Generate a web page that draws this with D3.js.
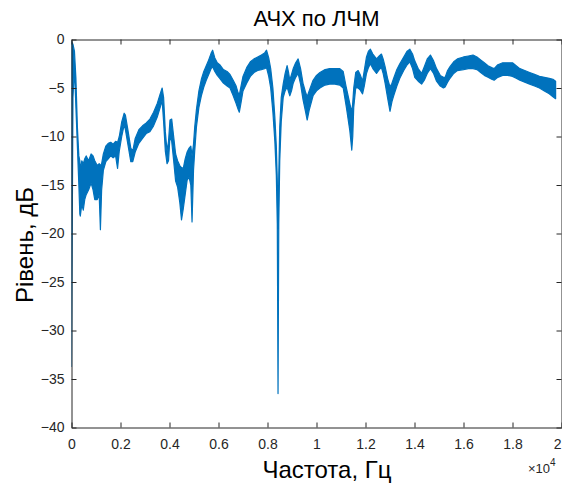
<!DOCTYPE html>
<html>
<head>
<meta charset="utf-8">
<script src="https://cdn.jsdelivr.net/npm/d3@7"></script>
<style>
  html, body { margin: 0; padding: 0; background: #ffffff; }
  svg { display: block; }
</style>
</head>
<body>
<svg id="chart" width="562" height="486"></svg>
<script>
// Frequency response measured with a linear chirp (ЛЧМ).
// The trace is dense, so it is kept as a lower and an upper envelope of the level.
const freqHz = [
  0, 60, 120, 180, 240, 300, 340, 360, 420, 480, 540, 600, 700, 800, 880, 950, 1050, 1130, 1180, 1230,
  1300, 1400, 1500, 1600, 1700, 1800, 1880, 1950, 2050, 2150, 2200, 2300, 2420, 2500, 2600, 2750,
  2900, 3050, 3200, 3350, 3500, 3620, 3700, 3760, 3830, 3900, 3960, 4020, 4090, 4170, 4250, 4330,
  4420, 4490, 4560, 4640, 4720, 4800, 4870, 4920, 4980, 5030, 5100, 5200, 5300, 5400, 5500, 5600,
  5700, 5760, 5850, 5950, 6050, 6200, 6350, 6470, 6600, 6720, 6800, 6850, 6920, 7000, 7150, 7300,
  7450, 7600, 7750, 7880, 7960, 8050, 8130, 8220, 8300, 8360, 8400, 8430, 8460, 8500, 8560, 8640,
  8720, 8800, 8860, 8910, 8980, 9050, 9150, 9250, 9350, 9450, 9550, 9620, 9700, 9860, 10000, 10140,
  10350, 10540, 10750, 10950, 11090, 11220, 11360, 11440, 11480, 11520, 11600, 11700, 11780, 11880,
  11950, 12040, 12120, 12200, 12300, 12450, 12560, 12650, 12720, 12800, 12900, 13000, 13080, 13150,
  13280, 13400, 13560, 13700, 13810, 13920, 14010, 14150, 14290, 14400, 14520, 14650, 14780, 14900,
  15050, 15180, 15250, 15350, 15450, 15600, 15750, 16000, 16200, 16390, 16550, 16700, 16850, 17000,
  17150, 17250, 17400, 17600, 17800, 18000, 18150, 18300, 18500, 18700, 18900, 19100, 19300, 19500,
  19650, 19760
];
const upperDb = [
  -0.2, -0.5, -1.2, -4.0, -9.0, -12.0, -12.5, -13.5, -12.5, -12.8, -12.3, -12.0, -12.5, -11.8, -12.0, -12.5, -13.0, -12.8, -13.0, -12.8,
  -11.8, -11.0, -10.7, -10.6, -10.8, -10.5, -10.6, -10.0, -8.5, -7.6, -7.8, -9.3, -11.2, -11.5, -10.2, -9.3,
  -8.9, -8.6, -8.2, -7.5, -6.6, -5.6, -5.0, -6.0, -9.5, -11.5, -10.5, -8.3, -8.2, -10.0, -11.8, -12.5,
  -13.0, -13.2, -13.3, -12.3, -11.6, -11.2, -11.0, -12.0, -10.8, -9.0, -7.2, -5.3, -4.1, -3.3, -2.7, -2.1,
  -1.4, -1.1, -1.9, -2.4, -2.6, -3.1, -3.3, -3.6, -4.2, -4.8, -5.5, -5.7, -4.8, -3.8, -2.9, -2.3,
  -2.0, -1.8, -1.6, -1.4, -1.1, -1.9, -3.0, -5.0, -8.0, -11.0, -14.5, -19.5, -14.0, -9.0, -6.0, -4.6,
  -3.5, -2.7, -3.4, -4.2, -3.6, -3.0, -2.4, -2.0, -3.0, -4.5, -5.4, -5.9, -5.3, -4.2, -3.7, -3.4,
  -3.1, -3.0, -3.0, -3.0, -3.3, -5.0, -6.6, -7.5, -6.5, -5.0, -3.4, -3.2, -3.6, -4.3,
  -3.2, -1.8, -1.2, -1.0, -1.5, -2.0, -1.7, -1.5, -2.0, -2.8, -4.0, -4.9, -4.5, -4.0,
  -3.1, -2.5, -1.8, -1.2, -1.0, -1.5, -2.2, -3.0, -3.5, -2.8, -2.0, -1.6, -2.2, -3.0,
  -3.7, -3.9, -3.9, -3.2, -2.8, -2.3, -2.0, -1.8, -1.7, -1.6, -1.8, -2.1, -2.4, -2.7,
  -2.9, -3.0, -2.6, -2.4, -2.4, -2.4, -2.7, -3.0, -3.2, -3.4, -3.6, -3.8, -3.9, -4.0,
  -4.1, -4.3
];
const lowerDb = [
  -33.7, -6.0, -3.0, -7.0, -11.0, -15.0, -18.0, -18.2, -17.0, -17.6, -16.5, -16.0, -15.5, -14.8, -15.5, -16.5, -16.5, -16.0, -19.6, -15.5,
  -13.5, -12.6, -12.3, -12.0, -12.2, -12.0, -13.3, -11.5, -10.0, -8.8, -9.3, -10.8, -12.6, -12.6, -11.6, -10.7,
  -10.2, -9.7, -9.5, -8.9, -8.0, -7.0, -6.3, -8.5, -11.5, -12.8, -12.5, -10.0, -10.5, -12.5, -14.6, -15.2,
  -16.8, -18.6, -17.5, -16.0, -14.5, -14.2, -15.0, -18.8, -13.5, -11.5, -9.0, -7.0, -5.8, -4.9, -4.2, -3.6,
  -3.0, -2.8, -3.3, -3.7, -4.0, -4.5, -4.8, -5.0, -5.8, -6.6, -7.2, -7.5, -6.5, -5.3, -4.5, -3.8,
  -3.4, -3.2, -3.1, -3.0, -2.9, -3.8, -5.0, -7.5, -10.5, -14.0, -19.0, -36.5, -19.0, -12.5, -8.5, -6.0,
  -5.3, -4.9, -5.4, -5.8, -5.3, -4.5, -3.9, -3.5, -4.6, -6.2, -7.4, -8.3, -7.3, -5.8, -5.3, -5.0,
  -4.7, -4.6, -4.6, -4.7, -5.0, -7.0, -9.4, -11.4, -10.0, -7.0, -5.0, -5.0, -5.2, -5.6,
  -4.8, -3.5, -2.9, -2.5, -3.0, -3.5, -3.1, -2.9, -3.5, -4.5, -6.0, -7.4, -6.4, -5.8,
  -4.8, -4.0, -3.2, -2.6, -2.3, -3.0, -3.9, -4.3, -4.6, -4.2, -3.5, -3.0, -3.5, -4.3,
  -4.8, -5.0, -4.9, -4.4, -4.0, -3.5, -3.2, -3.1, -3.0, -3.0, -3.1, -3.4, -3.7, -3.9,
  -4.1, -4.2, -3.9, -3.7, -3.7, -3.8, -4.0, -4.2, -4.4, -4.6, -4.8, -5.0, -5.3, -5.6,
  -5.9, -6.1
];

// Axis ticks (x in units of 10^4 Hz)
const xTicks = [0, 0.2, 0.4, 0.6, 0.8, 1, 1.2, 1.4, 1.6, 1.8, 2];
const yTicks = [0, -5, -10, -15, -20, -25, -30, -35, -40];

const titleText = "АЧХ по ЛЧМ";
const xLabelText = "Частота, Гц";
const yLabelText = "Рівень, дБ";

const svg = d3.select("#chart");
const fontFam = "'Liberation Sans', Arial, Helvetica, sans-serif";
const axisColor = "#262626";
const lineColor = "#0072BD";

const plot = { left: 71.5, right: 561.5, top: 39.5, bottom: 427.5 };

const x = d3.scaleLinear().domain([0, 20000]).range([plot.left, plot.right]);
const y = d3.scaleLinear().domain([-40, 0]).range([plot.bottom, plot.top]);

const rows = freqHz.map((f, i) => ({ f, hi: upperDb[i], lo: lowerDb[i] }));

svg.append("defs").append("clipPath").attr("id", "plotClip")
  .append("rect")
  .attr("x", plot.left).attr("y", plot.top - 1)
  .attr("width", plot.right - plot.left).attr("height", plot.bottom - plot.top + 2);

// Level band
const band = d3.area()
  .x(d => x(d.f))
  .y0(d => y(d.lo))
  .y1(d => y(d.hi));

svg.append("g").attr("clip-path", "url(#plotClip)")
  .append("path")
  .datum(rows)
  .attr("d", band)
  .attr("fill", lineColor)
  .attr("stroke", lineColor)
  .attr("stroke-width", 1.2)
  .attr("stroke-linejoin", "round");

// Axes with inward ticks on all four sides
const tickLen = 5;
const tickFont = "14px";

const xAxisBottom = d3.axisBottom(x)
  .tickValues(xTicks.map(v => v * 10000))
  .tickFormat(d => d3.format("~g")(d / 10000))
  .tickSizeInner(-tickLen).tickSizeOuter(0).tickPadding(12);
const xAxisTop = d3.axisTop(x)
  .tickValues(xTicks.map(v => v * 10000))
  .tickFormat("")
  .tickSizeInner(-tickLen).tickSizeOuter(0);
const yAxisLeft = d3.axisLeft(y)
  .tickValues(yTicks)
  .tickFormat(d => d3.format("~g")(d))
  .tickSizeInner(-tickLen).tickSizeOuter(0).tickPadding(7);
const yAxisRight = d3.axisRight(y)
  .tickValues(yTicks)
  .tickFormat("")
  .tickSizeInner(-tickLen).tickSizeOuter(0);

function styleAxis(g) {
  g.selectAll("path.domain").attr("stroke", axisColor).attr("stroke-width", 1);
  g.selectAll(".tick line").attr("stroke", axisColor).attr("stroke-width", 1);
  g.selectAll(".tick text")
    .attr("fill", axisColor)
    .style("font-family", fontFam)
    .style("font-size", tickFont);
}

const gxb = svg.append("g").attr("transform", `translate(0,${plot.bottom})`).call(xAxisBottom).call(styleAxis);
// keep the last label inside the window edge
gxb.selectAll(".tick text").filter(d => d === 20000).attr("text-anchor", "end").attr("dx", -0.5);
svg.append("g").attr("transform", `translate(0,${plot.top})`).call(xAxisTop).call(styleAxis);
svg.append("g").attr("transform", `translate(${plot.left},0)`).call(yAxisLeft).call(styleAxis);
svg.append("g").attr("transform", `translate(${plot.right},0)`).call(yAxisRight).call(styleAxis);

// Exponent marker for the x axis
const expo = svg.append("text")
  .attr("x", 528).attr("y", 473)
  .attr("fill", axisColor)
  .style("font-family", fontFam)
  .style("font-size", "13px");
expo.append("tspan").text("×10");
expo.append("tspan").attr("dy", -7).style("font-size", "10px").text("4");

// Title and axis labels
svg.append("text")
  .attr("x", (plot.left + plot.right) / 2).attr("y", 26)
  .attr("text-anchor", "middle")
  .attr("fill", "#000")
  .style("font-family", fontFam)
  .style("font-size", "22px")
  .text(titleText);

svg.append("text")
  .attr("x", 327).attr("y", 478)
  .attr("text-anchor", "middle")
  .attr("fill", "#000")
  .style("font-family", fontFam)
  .style("font-size", "24px")
  .text(xLabelText);

svg.append("text")
  .attr("transform", "translate(33,245) rotate(-90)")
  .attr("text-anchor", "middle")
  .attr("fill", "#000")
  .style("font-family", fontFam)
  .style("font-size", "24px")
  .text(yLabelText);
</script>
</body>
</html>
